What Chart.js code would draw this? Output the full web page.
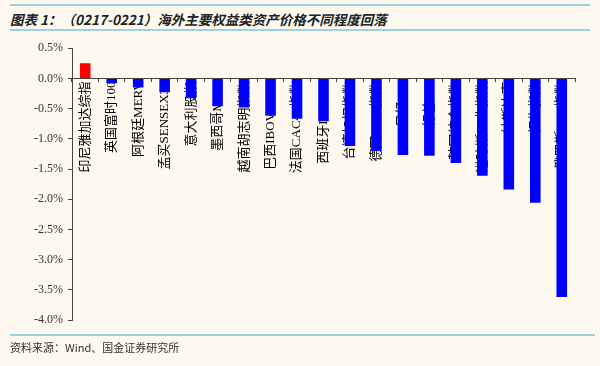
<!DOCTYPE html>
<html>
<head>
<meta charset="utf-8">
<script src="https://cdn.jsdelivr.net/npm/chart.js@4"></script>
<style>
  html, body { margin: 0; padding: 0; }
  body { width: 600px; height: 366px; background: #fdf9ef; position: relative; overflow: hidden;
         font-family: "Noto Sans CJK SC", sans-serif; }
  .rule { position: absolute; left: 10px; width: 580px; height: 2px; background: #9fd0e0; }
  #title { position: absolute; left: 10px; top: 9px; font-size: 13.5px; font-weight: bold;
           font-style: italic; color: #222; white-space: nowrap; }
  #source { position: absolute; left: 10px; top: 339px; font-size: 11px; color: #333; }
  #wrap { position: absolute; left: 0; top: 36px; width: 600px; height: 300px; }
</style>
</head>
<body>
<div class="rule" style="top:4px"></div>
<div id="title">图表 1：（0217-0221）海外主要权益类资产价格不同程度回落</div>
<div class="rule" style="top:29px"></div>
<div id="wrap"><canvas id="chart"></canvas></div>
<div class="rule" style="top:334px; width:585px"></div>
<div id="source">资料来源：Wind、国金证券研究所</div>

<script>
const markets = ['印尼雅加达综指', '英国富时100', '阿根廷MERV', '孟买SENSEX30', '意大利股指',
  '墨西哥MXX', '越南胡志明指数', '巴西IBOVESPA', '法国CAC40指数', '西班牙IBEX35',
  '台湾加权指数', '德国DAX指数', '日经225', '标普500', '韩国综合指数',
  '道琼斯工业指数', '纳斯达克', '恒生指数', '俄罗斯RTS指数'];
const weeklyChange = [0.25, -0.08, -0.15, -0.23, -0.33, -0.46, -0.48, -0.62, -0.67, -0.71,
  -1.12, -1.20, -1.27, -1.28, -1.40, -1.61, -1.84, -2.06, -3.62];
const barColors = weeklyChange.map(v => v > 0 ? '#ff0000' : '#0000ff');

const ctx = document.getElementById('chart').getContext('2d');
new Chart(ctx, {
  type: 'bar',
  data: {
    labels: markets,
    datasets: [{
      data: weeklyChange,
      backgroundColor: barColors,
      barPercentage: 0.4,
      categoryPercentage: 1
    }]
  },
  options: {
    responsive: true,
    maintainAspectRatio: false,
    animation: false,
    layout: { padding: { top: 10, right: 25, bottom: 16, left: 0 } },
    plugins: { legend: { display: false }, tooltip: { enabled: false } },
    scales: {
      x: {
        position: { y: 0 },
        grid: { display: true, drawOnChartArea: false, offset: true, tickLength: 3, color: '#444' },
        border: { color: '#444', width: 1 },
        ticks: {
          autoSkip: false, minRotation: 90, maxRotation: 90, padding: 0,
          color: '#000', font: { family: '"Liberation Serif", "Noto Sans CJK SC"', size: 13 }
        }
      },
      y: {
        min: -4, max: 0.5,
        afterFit: s => { s.width = 72; },
        grid: { drawOnChartArea: false, tickLength: 4, color: '#444' },
        border: { color: '#444', width: 1 },
        ticks: {
          stepSize: 0.5, padding: 5, color: '#333',
          font: { family: '"Liberation Serif", serif', size: 12 },
          callback: v => v.toFixed(1) + '%'
        }
      }
    }
  }
});
</script>
</body>
</html>
